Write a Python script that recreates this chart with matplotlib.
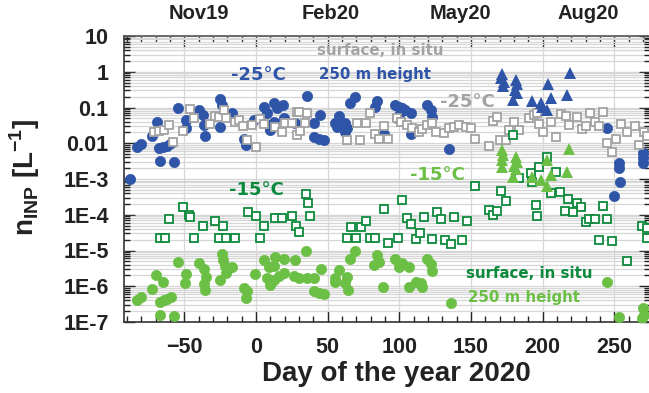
import matplotlib
matplotlib.use("Agg")
import matplotlib.pyplot as plt
from matplotlib.ticker import FixedLocator, FixedFormatter, MultipleLocator, LogLocator, NullFormatter

# ---- data (day of year 2020, INP concentration in L^-1) ----
# -25 degC, 250 m height (filled circles)
blue_circ_day = [-88, -83, -80, -72.5, -69, -67.4, -64.8, -62, -59.2, -67.2, -57.4, -54.3, -49, -48.7,
                 -39.5, -36.9, -36.4, -35.3, -24.8, -23.6, -25.3, -16.6, -8.5, -6.6, -1.5, 5.9, 7.8,
                 12.9, 14.8, 19, 9, 10, 12.9, 19.4, 27.6, 35.5, 45, 40.9, 40.4, 43.9, 47.3, 69.5, 66,
                 57.8, 55.5, 56.7, 62.5, 63.7, 62.5, 84.6, 83.4, 89.3, 97.4, 99.7, 102.1, 104.4, 107.9,
                 107.9, 98.6, 99.7, 119.5, 121.9, 123, 135, 245, 253.4, 253.4, 254.1, 250, 270.4, 270.4,
                 270.4]
blue_circ_val = [1.0e-3, 0.0077, 0.0095, 0.016, 0.040, 0.0072, 0.008, 0.0083, 0.0099, 0.0032, 0.0030,
                 0.095, 0.045, 0.026, 0.085, 0.062, 0.032, 0.016, 0.17, 0.118, 0.029, 0.07, 0.013, 0.0089,
                 0.045, 0.104, 0.069, 0.135, 0.096, 0.118, 0.032, 0.023, 0.04, 0.05, 0.036, 0.21, 0.062,
                 0.036, 0.015, 0.013, 0.012, 0.20, 0.13, 0.058, 0.036, 0.029, 0.036, 0.026, 0.021, 0.155,
                 0.104, 0.018, 0.118, 0.104, 0.096, 0.085, 0.069, 0.018, 0.05, 0.062, 0.118, 0.085, 0.055,
                 0.0068, 0.026, 0.0028, 0.002, 8.3e-4, 3.3e-4, 0.0052, 0.0038, 0.0028]

# -25 degC, surface in situ (open grey squares)
grey_sq_day = [-71.4, -67.9, -64.4, -60.9, -57.8, -50.9, -46.2, -43, -31.8, -28.8, -25.5, -22.5, -20.6,
               -14.3, -12, -8.9, -6.1, -2.7, 0.1, 3.1, 5.9, 13.6, 18.3, 20.6, 25.3, 28.8, 28.8, 29.9,
               35.8, 34.6, 31.1, 70.7, 76.5, 63.7, 73, 79.3, 83.4, 89.3, 85.8, 92.3, 98.6, 101.6, 105.6,
               109.1, 113.8, 116.1, 119.6, 123.1, 125.5, 131.2, 134.8, 138.2, 141.7, 146.3, 149.8, 152.8,
               162.6, 165.6, 168.4, 170.3, 174.2, 176.5, 180, 183.5, 190.5, 194, 196.4, 197.5, 200.6,
               205.7, 209.1, 212.6, 216.1, 218.4, 224.3, 227.8, 230.1, 233.1, 236.4, 239.4, 242.5, 245.3,
               251.1, 248.8, 254.5, 259.2, 264.3, 270.8, 273.2, 267.3]
grey_sq_val = [0.021, 0.022, 0.023, 0.032, 0.011, 0.022, 0.089, 0.05, 0.035, 0.058, 0.054, 0.085, 0.05,
               0.04, 0.045, 0.03, 0.012, 0.032, 0.0078, 0.047, 0.035, 0.029, 0.02, 0.038, 0.038, 0.076,
               0.017, 0.076, 0.072, 0.036, 0.022, 0.036, 0.036, 0.012, 0.012, 0.071, 0.018, 0.03, 0.013,
               0.013, 0.05, 0.04, 0.032, 0.026, 0.021, 0.025, 0.032, 0.036, 0.02, 0.019, 0.026, 0.029,
               0.032, 0.029, 0.026, 0.0135, 0.0083, 0.043, 0.055, 0.012, 0.012, 0.023, 0.039, 0.023, 0.05,
               0.062, 0.069, 0.034, 0.02, 0.04, 0.0145, 0.066, 0.058, 0.032, 0.054, 0.025, 0.03, 0.071,
               0.04, 0.03, 0.076, 0.01, 0.013, 0.0058, 0.035, 0.021, 0.03, 0.021, 0.016, 0.0089]

# -25 degC, triangles
blue_tri_day = [171.9, 170.7, 173, 172.6, 181.2, 182.4, 180.7, 181.9, 179.6, 203.8, 205.7, 217.3, 219.1,
                192.9, 198.7, 202.9, 199.9]
blue_tri_val = [0.87, 0.66, 0.53, 0.40, 0.59, 0.46, 0.31, 0.26, 0.16, 0.46, 0.18, 0.22, 0.91, 0.155,
                0.135, 0.085, 0.105]

# -15 degC, triangles
green_tri_day = [172, 172.5, 171.5, 172, 181.2, 182.4, 180, 181.2, 179.6, 218.4, 217.3, 203.3, 205.7,
                 192.9, 198.7, 203.3]
green_tri_val = [0.0065, 0.0047, 0.0034, 0.0022, 0.0042, 0.003, 0.0023, 0.0019, 0.00115, 0.0068, 0.0016,
                 0.0034, 0.0013, 0.00115, 0.00093, 6.2e-4]

# -15 degC, surface in situ (open dark green squares)
dgreen_sq_day = [-66.7, -63.7, -60.9, -50.9, -46.9, -45.7, -43, -36.9, -28.8, -22.9, -26, -20.6, -14.8,
                 -5.7, 0.1, 5.9, 3.1, 13.6, 18.3, 25.3, 28, 30.4, 35.3, 36.2, 37.6, 63.7, 66.7, 70.2,
                 73.5, 76.5, 79.3, 83.4, 89.3, 92.3, 99.3, 102.1, 105.6, 108.4, 111.4, 114.2, 117.2, 123,
                 126.5, 129.3, 132.3, 136, 138.1, 144, 147.5, 153, 162.6, 165.6, 168.4, 171.2, 174.2,
                 179.6, 183.5, 191.7, 197.5, 203.3, 209.1, 192.9, 205.7, 212.1, 195.2, 196.4, 218, 224.3,
                 227.1, 215.4, 221.2, 242.2, 230.1, 232.4, 236.4, 245.3, 239.4, 248.3, 259.2, 269.7, 273.2,
                 273.2]
dgreen_sq_val = [2.3e-5, 2.3e-5, 7.6e-5, 1.6e-4, 9.8e-5, 8.5e-5, 2.3e-5, 4.7e-5, 6.5e-5, 4.7e-5, 2.3e-5,
                 2.3e-5, 2.3e-5, 1.2e-4, 9.3e-5, 4.7e-5, 2.3e-5, 8e-5, 8e-5, 9.3e-5, 4.7e-5, 3.2e-5,
                 3.7e-4, 2.2e-4, 9.5e-5, 2.3e-5, 4.4e-5, 2.3e-5, 4.4e-5, 6.8e-5, 2.3e-5, 2.3e-5, 1.45e-4,
                 1.66e-5, 2.2e-5, 2.6e-4, 8e-5, 5.5e-5, 2.1e-5, 3e-5, 8.5e-5, 2.1e-5, 1.2e-4, 7.4e-5,
                 2.0e-5, 1.5e-5, 8.5e-5, 2.0e-5, 6.8e-5, 6.5e-4, 1.4e-4, 9.8e-5, 1.26e-4, 4.7e-4, 2.5e-4,
                 0.017, 1.05e-3, 1.45e-3, 2.2e-3, 4.1e-3, 1.6e-3, 8.3e-4, 4e-4, 4.2e-4, 1.9e-4, 9.3e-5,
                 2.7e-4, 2.2e-4, 1.6e-4, 1.26e-4, 1.23e-4, 1.74e-4, 6.2e-5, 7.6e-5, 7.6e-5, 7.6e-5,
                 1.95e-5, 1.8e-5, 5.1e-6, 4.7e-5, 4.2e-5, 2.3e-5]

# -15 degC, 250 m height (filled light green circles)
lgreen_circ_day = [-83, -80.2, -72.5, -69.5, -64.8, -67.2, -64.4, -62, -59, -67.2, -57.4, -54.3, -48.7,
                   -49.2, -39.5, -36.4, -34.6, -36.4, -35.3, -24.8, -23.6, -23.2, -21.3, -19.7, -16.6,
                   -20.6, -8.5, -6.1, -6.6, -0.8, 5.9, 9, 13.6, 19.4, 12.9, 7.8, 9.6, 12.4, 15.9, 19.9,
                   26.9, 35.3, 27.6, 29.9, 35.8, 40.4, 45.5, 40.4, 47.3, 43.9, 55.5, 57.8, 55.5, 63.7,
                   62.5, 64.1, 66, 69.5, 82.3, 84.6, 85.8, 88.6, 97.4, 99.7, 102.1, 106.7, 106.7, 111.9,
                   115.6, 114.9, 119.5, 121.9, 123, 136.3, 245.3, 253.4, 270.4, 270.9, 269.7]
lgreen_circ_val = [4.2e-7, 5.1e-7, 8.3e-7, 2.0e-6, 1.3e-6, 3.7e-7, 4e-7, 4.3e-7, 5.1e-7, 1.6e-7, 1.5e-7,
                   4.9e-6, 2.2e-6, 1.2e-6, 4.4e-6, 3e-6, 1.8e-6, 1.15e-6, 7.9e-7, 1.5e-6, 7.9e-6, 5.4e-6,
                   3.7e-6, 3e-6, 3.4e-6, 2.3e-6, 8.7e-7, 7.6e-7, 4.6e-7, 2.2e-6, 5.4e-6, 3.4e-6, 6.5e-6,
                   5.8e-6, 3.7e-6, 1.66e-6, 1.07e-6, 1.5e-6, 1.9e-6, 2.4e-6, 1.9e-6, 1.0e-5, 5.4e-6,
                   1.66e-6, 1.66e-6, 1.66e-6, 3e-6, 7.4e-7, 6e-7, 6.3e-7, 1.66e-6, 2.8e-6, 1.35e-6, 1.8e-6,
                   1.2e-6, 7.9e-7, 5.8e-6, 9.8e-6, 3.9e-6, 7.4e-6, 4.9e-6, 9.8e-7, 5.8e-6, 3.5e-6, 4.6e-6,
                   3.5e-6, 9.8e-7, 1.35e-6, 9.8e-7, 1.2e-6, 5.8e-6, 4.2e-6, 2.6e-6, 3.5e-7, 1.3e-6,
                   1.35e-7, 2.5e-7, 1.6e-7, 1.26e-7]

y_ticks = [1e-7, 1e-6, 1e-5, 1e-4, 1e-3, 1e-2, 1e-1, 1, 10]
y_tick_labels = ["1E-7", "1E-6", "1E-5", "1E-4", "1E-3", "0.01", "0.1", "1", "10"]
month_pos = [-40, 52, 143, 232]
month_labels = ["Nov19", "Feb20", "May20", "Aug20"]

# colours
BLUE = "#2f55a8"
GREY = "#a3a3a3"
LGREEN = "#6cbf45"
DGREEN = "#0c8a3c"
INK = "#222222"

plt.rcParams["font.family"] = ["Liberation Sans", "DejaVu Sans"]
plt.rcParams["font.weight"] = "bold"
plt.rcParams["axes.labelweight"] = "bold"
plt.rcParams["mathtext.fontset"] = "custom"
plt.rcParams["mathtext.rm"] = "Liberation Sans:bold"
plt.rcParams["mathtext.bf"] = "Liberation Sans:bold"

fig = plt.figure(figsize=(6.49, 3.93), dpi=100)
ax = fig.add_axes([124 / 649, 1 - 322 / 393, 526 / 649, 286 / 393])

ax.set_yscale("log")
ax.set_xlim(-92, 275)
ax.set_ylim(1e-7, 10)

# grid
ax.grid(True, which="major", axis="x", color="#d6d6d6", lw=0.9)
ax.grid(True, which="both", axis="y", color="#d6d6d6", lw=0.9)
ax.set_axisbelow(True)

# markers
ax.plot(blue_circ_day, blue_circ_val, "o", color=BLUE, ms=7.4, mec=BLUE, mew=0.5, zorder=3)
ax.plot(lgreen_circ_day, lgreen_circ_val, "o", color=LGREEN, ms=7.4, mec=LGREEN, mew=0.5, zorder=3)
ax.plot(grey_sq_day, grey_sq_val, "s", mfc="white", mec=GREY, ms=6.0, mew=1.3, zorder=4)
ax.plot(dgreen_sq_day, dgreen_sq_val, "s", mfc="white", mec=DGREEN, ms=6.0, mew=1.3, zorder=4)
ax.plot(blue_tri_day, blue_tri_val, "^", color=BLUE, ms=8, mew=0, zorder=5)
ax.plot(green_tri_day, green_tri_val, "^", color=LGREEN, ms=8, mew=0, zorder=5)

# axes ticks
ax.xaxis.set_major_locator(MultipleLocator(50))
ax.xaxis.set_minor_locator(MultipleLocator(10))
ax.yaxis.set_major_locator(FixedLocator(y_ticks))
ax.yaxis.set_major_formatter(FixedFormatter(y_tick_labels))
ax.yaxis.set_minor_locator(LogLocator(base=10, subs=range(2, 10), numticks=20))
ax.yaxis.set_minor_formatter(NullFormatter())
ax.tick_params(which="both", direction="in", top=True, right=True, colors=INK,
               labelsize=15.5, width=1.0)
ax.tick_params(which="major", length=8)
ax.tick_params(which="minor", length=4)
ax.tick_params(axis="x", pad=11)
ax.tick_params(axis="y", pad=11)
for sp in ax.spines.values():
    sp.set_color("#333333")
    sp.set_linewidth(1.2)
ax.spines["top"].set_color("#555555")

# month labels on top
top = ax.secondary_xaxis("top")
top.set_xticks(month_pos)
top.set_xticklabels(month_labels)
top.tick_params(length=0, pad=9, labelsize=14.5, colors=INK)
top.spines["top"].set_visible(False)

ax.set_xlabel("Day of the year 2020", fontsize=20, fontweight="bold", color=INK)
ax.xaxis.set_label_coords(0.517, -0.135)
ax.set_ylabel(r"n$_{\mathregular{INP}}$ [L$^{\mathregular{-1}}$]", fontsize=20, fontweight="bold", color=INK)
ax.yaxis.set_label_coords(-0.155, 0.505)

# annotations
tfont = ["DejaVu Sans"]
ax.text(0.255, 0.864, "-25°C", transform=ax.transAxes, color=BLUE, fontsize=13,
        family=tfont, weight="bold", ha="center", va="center")
ax.text(0.488, 0.948, "surface, in situ", transform=ax.transAxes, color=GREY, fontsize=10.8,
        family=tfont, weight="bold", ha="center", va="center")
ax.text(0.478, 0.867, "250 m height", transform=ax.transAxes, color=BLUE, fontsize=10.8,
        family=tfont, weight="bold", ha="center", va="center")
ax.text(0.653, 0.769, "-25°C", transform=ax.transAxes, color=GREY, fontsize=13,
        family=tfont, weight="bold", ha="center", va="center")
ax.text(0.596, 0.514, "-15°C", transform=ax.transAxes, color=LGREEN, fontsize=13,
        family=tfont, weight="bold", ha="center", va="center")
ax.text(0.251, 0.462, "-15°C", transform=ax.transAxes, color=DGREEN, fontsize=13,
        family=tfont, weight="bold", ha="center", va="center")
ax.text(0.771, 0.171, "surface, in situ", transform=ax.transAxes, color=DGREEN, fontsize=10.8,
        family=tfont, weight="bold", ha="center", va="center")
ax.text(0.760, 0.087, "250 m height", transform=ax.transAxes, color=LGREEN, fontsize=10.8,
        family=tfont, weight="bold", ha="center", va="center")

fig.savefig("out.png", dpi=100)
